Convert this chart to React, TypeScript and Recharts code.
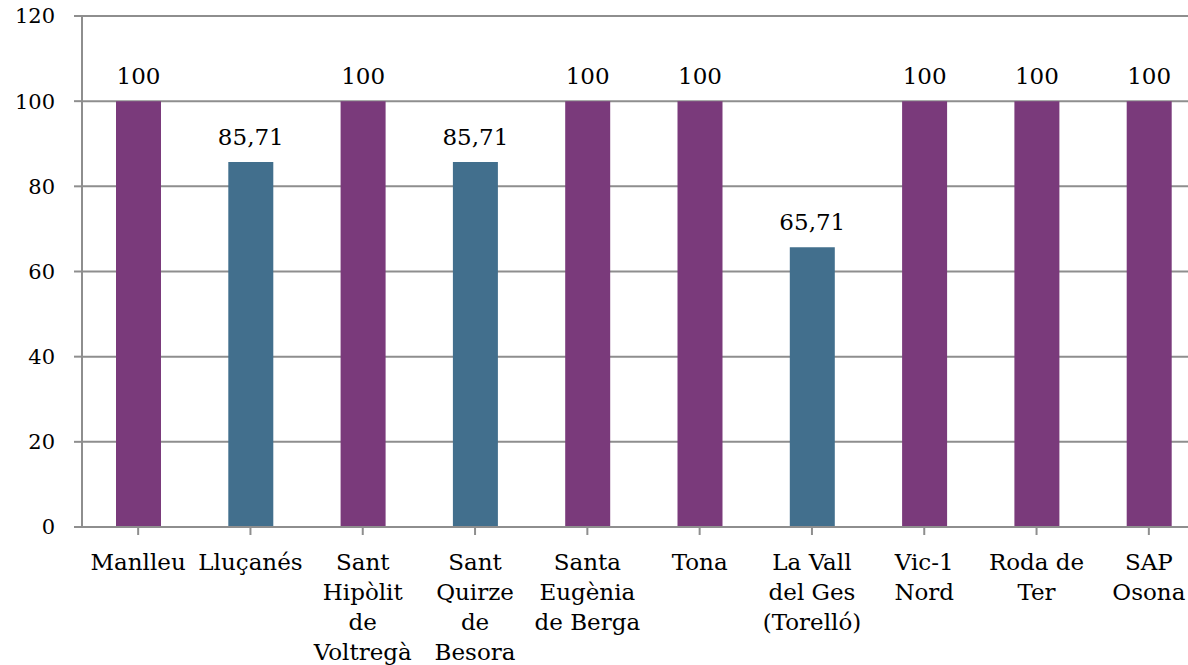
import React from "react";
import { BarChart, Bar, XAxis, YAxis, CartesianGrid, LabelList, Cell } from "recharts";

const categories = [
  "Manlleu",
  "Lluçanés",
  "Sant\nHipòlit\nde\nVoltregà",
  "Sant\nQuirze\nde\nBesora",
  "Santa\nEugènia\nde Berga",
  "Tona",
  "La Vall\ndel Ges\n(Torelló)",
  "Vic-1\nNord",
  "Roda de\nTer",
  "SAP\nOsona",
];
const values = [100, 85.71, 100, 85.71, 100, 100, 65.71, 100, 100, 100];
const yTicks = [0, 20, 40, 60, 80, 100, 120];

const PURPLE = "#7A3A7B";
const BLUE = "#426F8D";
const GRID = "#8E8E8E";
const FONT = "'DejaVu Serif', serif";

const data = categories.map((c, i) => ({ name: c, value: values[i] }));

const XTick = (props: any) => {
  const { x, y, payload } = props;
  const lines = String(payload.value).split("\n");
  return (
    <g>
      {lines.map((l: string, i: number) => (
        <text
          key={i}
          x={x}
          y={y + 33 + i * 30}
          textAnchor="middle"
          fontFamily={FONT}
          fontSize={23}
          fill="#000"
        >
          {l}
        </text>
      ))}
    </g>
  );
};

const fmt = (v: any) => String(v).replace(".", ",");

export default function App() {
  return (
    <div style={{ position: "absolute", left: 0, top: 0, width: 1188, height: 665, overflow: "hidden", background: "#fff" }}>
      <BarChart
        width={1215}
        height={665}
        data={data}
        margin={{ top: 16, right: 10, bottom: 8, left: 0 }}
        barCategoryGap={0}
      >
        <CartesianGrid vertical={false} stroke={GRID} strokeWidth={2} />
        <XAxis
          dataKey="name"
          interval={0}
          height={130}
          tick={<XTick />}
          tickLine={{ stroke: GRID, strokeWidth: 2 }}
          axisLine={{ stroke: GRID, strokeWidth: 2 }}
          tickSize={8}
        />
        <YAxis
          domain={[0, 120]}
          ticks={yTicks}
          width={82}
          tickSize={8}
          tickMargin={19}
          tickLine={{ stroke: GRID, strokeWidth: 2 }}
          axisLine={{ stroke: GRID, strokeWidth: 2 }}
          tick={{ fontFamily: FONT, fontSize: 21, fill: "#000" }}
        />
        <Bar dataKey="value" barSize={45} isAnimationActive={false}>
          {data.map((d, i) => (
            <Cell key={i} fill={d.value === 100 ? PURPLE : BLUE} />
          ))}
          <LabelList
            dataKey="value"
            position="top"
            offset={17}
            formatter={fmt}
            style={{ fontFamily: FONT, fontSize: 23, fill: "#000" }}
          />
        </Bar>
      </BarChart>
    </div>
  );
}
